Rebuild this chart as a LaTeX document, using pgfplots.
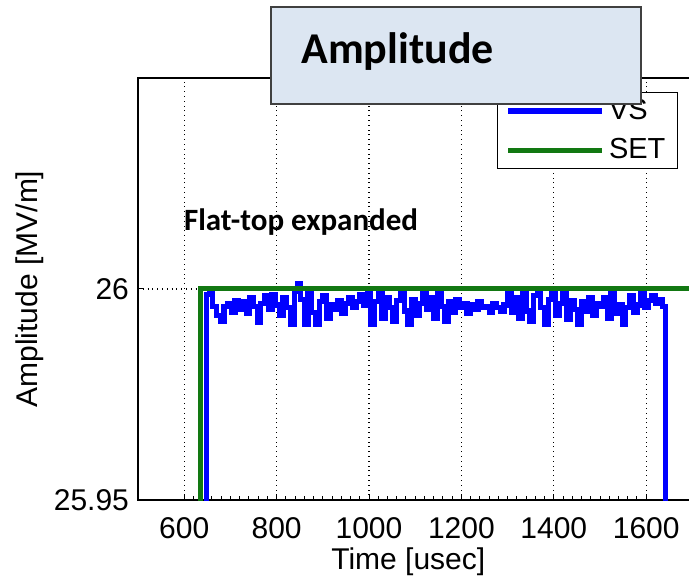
\documentclass[border=0pt]{standalone}
\usepackage{pgfplots}
\pgfplotsset{compat=1.18}
\usepackage{fontspec}
\setmainfont{Liberation Sans}
\newfontfamily\calibri{Carlito}
\definecolor{vsblue}{RGB}{0,0,255}
\definecolor{setgreen}{RGB}{18,120,18}
\definecolor{boxfill}{RGB}{220,230,242}
\definecolor{boxdraw}{RGB}{64,64,64}
\begin{document}
\begin{tikzpicture}
\useasboundingbox (-69pt,-41.5pt) rectangle (275.5pt,250pt);
\clip (-69pt,-41.5pt) rectangle (275.5pt,250pt);
\begin{axis}[
  at={(0pt,0pt)}, anchor=south west,
  scale only axis, width=300.3pt, height=211pt,
  xmin=500, xmax=1800, ymin=25.95, ymax=26.05,
  xtick={600,800,...,1600},
  extra x ticks={1800}, extra x tick labels={},
  ytick={25.95,26}, yticklabels={25.95,26},
  minor x tick num=9,
  xtick pos=bottom, ytick pos=left,
  tick align=inside,
  major tick length=3pt, minor tick length=2pt,
  tick style={black, line width=0.5pt},
  xmajorgrids, ymajorgrids,
  major grid style={black, dotted, line width=0.6pt},
  axis line style={black, line width=0.7pt},
  /pgf/number format/1000 sep={},
  /pgf/number format/assume math mode=true,
  tick label style={font=\fontsize{15}{18}\selectfont},
  xticklabel style={yshift=-5pt},
  yticklabel style={xshift=-1pt},
  xlabel={Time [usec]},
  ylabel={Amplitude [MV/m]},
  label style={font=\fontsize{15}{18}\selectfont},
  xlabel style={at={(axis description cs:0.45,0)}, anchor=center, yshift=-31pt},
  ylabel style={at={(axis description cs:-0.18,0.5)}, anchor=center},
  legend style={at={(axis description cs:0.899,0.967)}, anchor=north east,
    draw=black, line width=0.5pt, fill=white,
    font=\fontsize{14.5}{17}\selectfont,
    inner xsep=4pt, inner ysep=1.5pt, row sep=4pt},
  legend cell align=left,
  legend image code/.code={\draw[#1] (0pt,0pt) -- (47pt,0pt);},
]
\addplot[vsblue, line width=2.6pt, const plot] coordinates {
(648,25.94) (648,25.9987) (655,25.9994) (662,25.9959) (670,25.9938) (678,25.9924)
(686,25.9959) (694,25.9966) (702,25.9945) (710,25.9973) (718,25.9952) (726,25.9970)
(734,25.9942) (742,25.9980) (750,25.9959) (758,25.9920) (766,25.9966) (774,25.9984)
(782,25.9952) (790,25.9987) (798,25.9962) (806,25.9938) (814,25.9980) (822,25.9956)
(830,25.9917) (838,25.9994) (846,26.0012) (852,25.9976) (860,25.9915) (868,25.9990)
(876,25.9945) (884,25.9915) (892,25.9970) (900,25.9984) (908,25.9931) (916,25.9962)
(924,25.9952) (932,25.9973) (940,25.9942) (948,25.9966) (956,25.9980) (964,25.9956)
(972,25.9970) (980,25.9987) (988,25.9962) (996,25.9997) (1004,25.9917) (1012,25.9970)
(1020,25.9994) (1028,25.9931) (1036,25.9980) (1044,25.9956) (1052,25.9924) (1060,25.9973)
(1068,25.9998) (1076,25.9948) (1084,25.9917) (1092,25.9976) (1100,25.9938) (1108,25.9966)
(1116,25.9997) (1124,25.9952) (1132,25.9980) (1140,25.9931) (1148,25.9990) (1156,25.9959)
(1164,25.9924) (1172,25.9970) (1180,25.9945) (1188,25.9976) (1196,25.9956) (1204,25.9966)
(1212,25.9942) (1220,25.9962) (1228,25.9952) (1236,25.9970) (1244,25.9956) (1252,25.9959)
(1260,25.9945) (1268,25.9966) (1276,25.9956) (1284,25.9948) (1292,25.9962) (1300,25.9998)
(1308,25.9945) (1316,25.9980) (1324,25.9931) (1332,25.9994) (1340,25.9948) (1348,25.9924)
(1356,25.9984) (1364,25.9997) (1372,25.9956) (1380,25.9917) (1388,25.9976) (1396,25.9998)
(1404,25.9938) (1412,25.9966) (1420,25.9994) (1428,25.9928) (1436,25.9973) (1444,25.9952)
(1452,25.9915) (1460,25.9970) (1468,25.9948) (1476,25.9980) (1484,25.9938) (1492,25.9966)
(1500,25.9959) (1508,25.9980) (1516,25.9931) (1524,25.9994) (1532,25.9942) (1540,25.9962)
(1548,25.9917) (1556,25.9956) (1564,25.9984) (1572,25.9945) (1580,25.9962) (1588,25.9994)
(1596,25.9956) (1604,25.9973) (1612,25.9984) (1620,25.9966) (1628,25.9976) (1636,25.9959)
(1641,25.9956) (1641,25.94)
};
\addlegendentry{VS}
\addplot[setgreen, line width=2.5pt] coordinates {
(636,25.94) (636,26.0) (1800,26.0)
};
\addlegendentry{SET}
\end{axis}
\node[draw=boxdraw, line width=0.8pt, fill=boxfill, minimum width=185pt, minimum height=48.5pt, anchor=north west, inner sep=0pt] at (66pt,247pt) {};
\node[anchor=base west, inner sep=0pt, font=\calibri\bfseries\fontsize{22}{26}\selectfont] at (81.5pt,218pt) {Amplitude};
\node[anchor=center, inner sep=0pt, font=\calibri\bfseries\fontsize{15.5}{18}\selectfont] at (81.5pt,139pt) {Flat-top expanded};
\end{tikzpicture}
\end{document}
